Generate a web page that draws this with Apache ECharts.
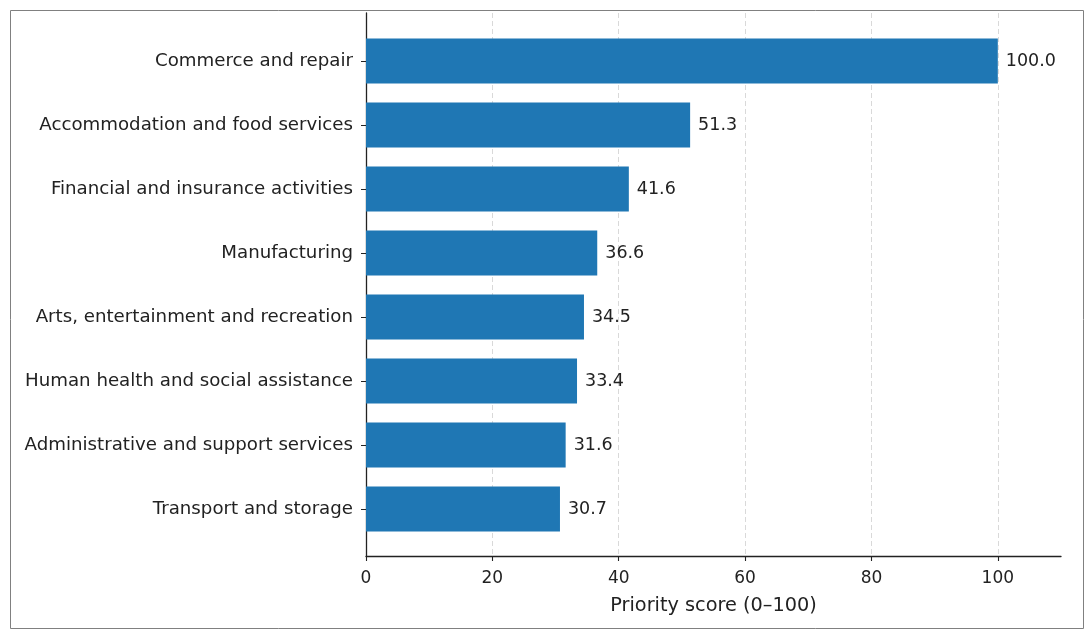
<!DOCTYPE html>
<html>
<head>
<meta charset="utf-8">
<script src="https://cdn.jsdelivr.net/npm/echarts@6/dist/echarts.min.js"></script>
<style>
html,body{margin:0;padding:0;background:#fff;}
#chart{width:1092px;height:637px;}
</style>
</head>
<body>
<div id="chart"></div>
<script>
const categories = [
  "Commerce and repair",
  "Accommodation and food services",
  "Financial and insurance activities",
  "Manufacturing",
  "Arts, entertainment and recreation",
  "Human health and social assistance",
  "Administrative and support services",
  "Transport and storage"
];
const scores = [100.0, 51.3, 41.6, 36.6, 34.5, 33.4, 31.6, 30.7];
const xTickMin = 0, xTickMax = 100, xTickStep = 20;
const xAxisMax = 110;
const xAxisTitle = "Priority score (0–100)";

const FONT = "DejaVu Sans";
const chart = echarts.init(document.getElementById('chart'), null, {renderer: 'canvas'});
const L = 366, T = 13, B = 637 - 556;
const plotRight = 1061;
const plotW = plotRight - L;
const tickRightPx = 1092 - (L + plotW * xTickMax / xAxisMax);
chart.setOption({
  animation: false,
  textStyle: {fontFamily: FONT},
  graphic: [{
    type: 'rect', z: -10, silent: true,
    shape: {x: 10.5, y: 10.5, width: 1073, height: 618},
    style: {fill: '#fff', stroke: '#808080', lineWidth: 1}
  }],
  grid: [
    {left: L, right: 1092 - plotRight, top: T, bottom: B, containLabel: false},
    {left: L, right: 1092 - plotRight, top: 29, bottom: 637 - 541, containLabel: false},
    {left: L, right: tickRightPx, top: T, bottom: B, containLabel: false}
  ],
  xAxis: [
    {
      gridIndex: 0, type: 'value', min: 0, max: xAxisMax,
      axisLine: {show: true, lineStyle: {color: '#222', width: 1.3}},
      axisTick: {show: false}, axisLabel: {show: false}, splitLine: {show: false},
      name: xAxisTitle, nameLocation: 'middle', nameGap: 40,
      nameTextStyle: {color: '#222', fontSize: 19.3, fontFamily: FONT}
    },
    {
      gridIndex: 1, type: 'value', min: 0, max: xAxisMax, show: false
    },
    {
      gridIndex: 2, type: 'value', min: xTickMin, max: xTickMax, interval: xTickStep,
      axisLine: {show: true, lineStyle: {color: 'rgba(0,0,0,0)', width: 1}},
      axisTick: {show: true, inside: false, length: 5, lineStyle: {color: '#222', width: 1.1}},
      axisLabel: {color: '#222', fontSize: 17, margin: 14, fontFamily: FONT},
      splitLine: {show: true, lineStyle: {color: '#d9d9d9', type: [5, 3], width: 1}}
    }
  ],
  yAxis: [
    {
      gridIndex: 0, type: 'value', min: 0, max: 1,
      axisLine: {show: true, lineStyle: {color: '#222', width: 1.3}},
      axisTick: {show: false}, axisLabel: {show: false}, splitLine: {show: false}
    },
    {
      gridIndex: 1, type: 'category', data: categories, inverse: true,
      axisLine: {show: false},
      axisTick: {show: true, alignWithLabel: true, length: 5, lineStyle: {color: '#222', width: 1}},
      axisLabel: {color: '#222', fontSize: 18.2, margin: 13, fontFamily: FONT},
      splitLine: {show: false}
    },
    {
      gridIndex: 2, type: 'value', min: 0, max: 1, show: false
    }
  ],
  series: [{
    type: 'bar', xAxisIndex: 1, yAxisIndex: 1,
    data: scores, barWidth: '70%',
    itemStyle: {color: '#1f77b4'},
    label: {
      show: true, position: 'right', distance: 8,
      color: '#222', fontSize: 17.5, fontFamily: FONT,
      formatter: p => p.value.toFixed(1)
    }
  }]
});
</script>
</body>
</html>
